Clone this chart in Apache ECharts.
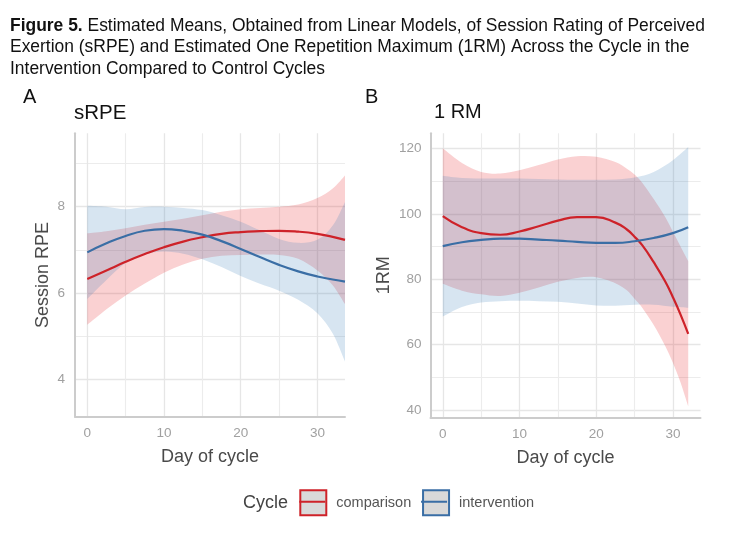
<!DOCTYPE html>
<html>
<head>
<meta charset="utf-8">
<script src="https://cdn.jsdelivr.net/npm/echarts@6/dist/echarts.min.js"></script>
<style>
  html, body { margin: 0; padding: 0; background: #ffffff; }
  #chart { width: 734px; height: 534px; }
</style>
</head>
<body>
<div id="chart"></div>
<script>
// ---------- Data ----------
// Panel A: sRPE
const daysA = [0, 2.5, 5, 7.5, 10, 12.5, 15, 17.5, 20, 22.5, 25, 27.5, 30, 32, 33.6];
const srpeComparison      = [6.32, 6.52, 6.72, 6.90, 7.06, 7.19, 7.29, 7.37, 7.41, 7.43, 7.44, 7.42, 7.37, 7.30, 7.23];
const srpeComparisonUpper = [7.38, 7.43, 7.50, 7.58, 7.65, 7.72, 7.80, 7.88, 7.94, 7.97, 8.00, 8.05, 8.20, 8.42, 8.72];
const srpeComparisonLower = [5.26, 5.62, 5.94, 6.22, 6.47, 6.66, 6.79, 6.86, 6.88, 6.89, 6.88, 6.79, 6.52, 6.18, 5.74];
const srpeIntervention      = [6.94, 7.15, 7.32, 7.44, 7.48, 7.44, 7.35, 7.20, 7.02, 6.83, 6.65, 6.50, 6.38, 6.31, 6.26];
const srpeInterventionUpper = [8.02, 8.00, 7.94, 7.99, 8.00, 7.97, 7.92, 7.80, 7.65, 7.45, 7.25, 7.16, 7.23, 7.56, 8.11];
const srpeInterventionLower = [5.86, 6.30, 6.70, 6.89, 6.96, 6.91, 6.78, 6.60, 6.39, 6.21, 6.05, 5.84, 5.53, 5.06, 4.41];

// Panel B: 1RM
const daysBComparison = [0, 2.5, 5, 7.5, 10, 12.5, 15, 17.5, 20, 22.5, 24, 25, 26, 27.5, 29, 30, 31, 32];
const rmComparison      = [99.3, 95.9, 94.1, 93.6, 94.6, 96.2, 97.9, 99.0, 99.0, 97.3, 95.2, 93.0, 90.4, 85.2, 79.3, 74.5, 69.2, 63.3];
const rmComparisonUpper = [120.0, 115.5, 112.8, 112.3, 113.3, 114.9, 116.6, 117.6, 117.4, 115.8, 113.8, 112.0, 109.5, 104.5, 99.0, 94.5, 90.0, 85.5];
const rmComparisonLower = [78.6, 76.5, 75.4, 74.9, 75.9, 77.5, 79.2, 80.4, 80.6, 78.8, 76.6, 74.0, 71.3, 66.0, 59.6, 54.5, 48.4, 41.1];
const daysBIntervention = [0, 2.5, 5, 7.5, 10, 12.5, 15, 17.5, 20, 22.5, 25, 27.5, 30, 32];
const rmIntervention      = [90.1, 91.3, 92.0, 92.4, 92.4, 92.1, 91.8, 91.4, 91.1, 91.1, 91.6, 92.6, 94.1, 95.9];
const rmInterventionUpper = [111.6, 110.9, 110.8, 110.8, 110.8, 110.6, 110.5, 110.4, 110.4, 110.5, 111.1, 112.8, 116.4, 120.4];
const rmInterventionLower = [68.6, 71.5, 72.9, 73.3, 73.4, 73.3, 73.1, 72.6, 72.0, 71.9, 72.2, 72.2, 71.6, 71.3];

// Tick labels
const xMajorTicks = [0, 10, 20, 30];
const xMinorTicks = [5, 15, 25];
const yMajorTicksA = [4, 6, 8];
const yMinorTicksA = [5, 7, 9];
const yMajorTicksB = [40, 60, 80, 100, 120];
const yMinorTicksB = [50, 70, 90, 110];

const groupNames = ['comparison', 'intervention'];

// ---------- Styling ----------
const RED = '#CE2229', BLUE = '#3A6EA5';
const RED_FILL = 'rgba(228,26,28,0.2)', BLUE_FILL = 'rgba(55,126,184,0.2)';
const FONT = '"Liberation Sans", Arial, Helvetica, sans-serif';

const chart = echarts.init(document.getElementById('chart'), null, { renderer: 'canvas' });

function pairs(xs, ys) { return xs.map((x, i) => [x, ys[i]]); }

// Catmull-Rom curve through pixel points -> cubic bezier path segments
function curveSegments(pts) {
  let d = '';
  for (let i = 0; i < pts.length - 1; i++) {
    const p0 = pts[i - 1] || pts[i], p1 = pts[i], p2 = pts[i + 1], p3 = pts[i + 2] || pts[i + 1];
    const c1 = [p1[0] + (p2[0] - p0[0]) / 6, p1[1] + (p2[1] - p0[1]) / 6];
    const c2 = [p2[0] - (p3[0] - p1[0]) / 6, p2[1] - (p3[1] - p1[1]) / 6];
    d += ' C' + c1[0] + ',' + c1[1] + ' ' + c2[0] + ',' + c2[1] + ' ' + p2[0] + ',' + p2[1];
  }
  return d;
}

function band(key, idx, xs, lower, upper, fill) {
  return {
    type: 'custom', name: key, xAxisIndex: idx, yAxisIndex: idx,
    coordinateSystem: 'cartesian2d', silent: true, z: 1, clip: true,
    data: xs.map((x, i) => [x, lower[i], upper[i]]),
    encode: { x: 0, y: [1, 2] },
    renderItem: function (params, api) {
      if (params.dataIndexInside !== 0) return null;
      const n = params.dataInsideLength;
      const up = [], lo = [];
      for (let i = 0; i < n; i++) {
        up.push(api.coord([api.value(0, i), api.value(2, i)]));
        lo.push(api.coord([api.value(0, i), api.value(1, i)]));
      }
      const loRev = lo.slice().reverse();
      const d = 'M' + up[0][0] + ',' + up[0][1] + curveSegments(up) +
        ' L' + loRev[0][0] + ',' + loRev[0][1] + curveSegments(loRev) + ' Z';
      return { type: 'path', shape: { pathData: d }, style: { fill: fill, stroke: null } };
    }
  };
}

function line(name, idx, xs, ys, color) {
  return {
    type: 'line', name: name, xAxisIndex: idx, yAxisIndex: idx,
    data: pairs(xs, ys), smooth: true, symbol: 'none', showSymbol: false,
    lineStyle: { color: color, width: 2.2 }, itemStyle: { color: color }, z: 3
  };
}

const axisLineStyle = { show: true, onZero: false, lineStyle: { color: '#cccccc', width: 2 } };
const majorGrid = { show: true, lineStyle: { color: '#e6e6e6', width: 1.3 } };
const minorGrid = { show: true, lineStyle: { color: '#ececec', width: 1.1 } };
const tickLabel = { color: '#a0a0a0', fontSize: 13.5, fontFamily: FONT, lineHeight: 16 };
const axisNameStyle = { fontSize: 18, color: '#4a4a4a', fontFamily: FONT, lineHeight: 22 };

function xMain(gridIndex) {
  return {
    type: 'value', gridIndex, min: -1.6, max: 33.6,
    axisLine: axisLineStyle,
    axisTick: { show: false, customValues: xMajorTicks },
    axisLabel: Object.assign({ customValues: xMajorTicks, margin: 8.5 }, tickLabel),
    splitLine: majorGrid,
    name: 'Day of cycle', nameLocation: 'middle', nameGap: 22.5, nameTextStyle: axisNameStyle
  };
}
function xMinor(gridIndex) {
  return {
    type: 'value', gridIndex, min: -1.6, max: 33.6,
    axisLine: { show: false, onZero: false }, axisLabel: { show: false },
    axisTick: { show: false, customValues: xMinorTicks },
    splitLine: minorGrid
  };
}
function yMain(gridIndex, min, max, ticks, name, gap, margin) {
  return {
    type: 'value', gridIndex, min, max, position: 'left',
    axisLine: axisLineStyle,
    axisTick: { show: false, customValues: ticks },
    axisLabel: Object.assign({ customValues: ticks, margin: margin }, tickLabel),
    splitLine: majorGrid,
    name: name, nameLocation: 'middle', nameGap: gap, nameTextStyle: axisNameStyle
  };
}
function yMinor(gridIndex, min, max, ticks) {
  return {
    type: 'value', gridIndex, min, max, position: 'left',
    axisLine: { show: false, onZero: false }, axisLabel: { show: false },
    axisTick: { show: false, customValues: ticks },
    splitLine: minorGrid
  };
}

const legendMarkLine = 'path://M0,0L26,0L26,0Z M0,11.5H26V13.5H0Z M0,25L26,25L26,25Z';

const option = {
  backgroundColor: '#ffffff',
  animation: false,
  textStyle: { fontFamily: FONT },
  title: [
    {
      text: '{b|Figure 5.} Estimated Means, Obtained from Linear Models, of Session Rating of Perceived\nExertion (sRPE) and Estimated One Repetition Maximum (1RM) Across the Cycle in the\nIntervention Compared to Control Cycles',
      left: 10, top: 15.3, padding: 0,
      textStyle: {
        fontSize: 17.45, lineHeight: 21.5, color: '#111111', fontWeight: 'normal', fontFamily: FONT,
        rich: { b: { fontSize: 17.45, lineHeight: 21.5, fontWeight: 'bold', color: '#111111', fontFamily: FONT } }
      }
    },
    { text: 'A', left: 23, top: 85, padding: 0, textStyle: { fontSize: 20, lineHeight: 24, fontWeight: 'normal', color: '#111', fontFamily: FONT } },
    { text: 'B', left: 365, top: 85, padding: 0, textStyle: { fontSize: 20, lineHeight: 24, fontWeight: 'normal', color: '#111', fontFamily: FONT } },
    { text: 'sRPE', left: 74, top: 101, padding: 0, textStyle: { fontSize: 20.5, lineHeight: 24, fontWeight: 'normal', color: '#111', fontFamily: FONT } },
    { text: '1 RM', left: 434, top: 100.5, padding: 0, textStyle: { fontSize: 20, lineHeight: 24, fontWeight: 'normal', color: '#111', fontFamily: FONT } },
    { text: 'Cycle', left: 243, top: 492, padding: 0, textStyle: { fontSize: 18, lineHeight: 22, fontWeight: 'normal', color: '#444', fontFamily: FONT } }
  ],
  legend: [
    {
      left: 299.3, top: 489.3, padding: 0, orient: 'horizontal',
      itemWidth: 26, itemHeight: 25, itemGap: 10.8, icon: 'rect', selectedMode: false,
      textStyle: { fontSize: 14.5, color: '#555555', fontFamily: FONT, padding: [0, 0, 0, 5] },
      data: [
        { name: groupNames[0], itemStyle: { color: '#d9d9d9', borderColor: RED, borderWidth: 2, opacity: 1 } },
        { name: groupNames[1], itemStyle: { color: '#d9d9d9', borderColor: BLUE, borderWidth: 2, opacity: 1 } }
      ]
    },
    {
      left: 299.3, top: 489.3, padding: 0, orient: 'horizontal',
      itemWidth: 26, itemHeight: 25, itemGap: 10.8, icon: legendMarkLine, selectedMode: false,
      textStyle: { fontSize: 14.5, color: 'rgba(0,0,0,0)', fontFamily: FONT, padding: [0, 0, 0, 5] },
      data: [
        { name: groupNames[0], itemStyle: { color: RED, borderWidth: 0, opacity: 1 } },
        { name: groupNames[1], itemStyle: { color: BLUE, borderWidth: 0, opacity: 1 } }
      ]
    }
  ],
  grid: [
    { left: 75, top: 133.3, width: 270, height: 283.4 },
    { left: 430.5, top: 133.3, width: 270, height: 284 }
  ],
  xAxis: [xMain(0), xMain(1), xMinor(0), xMinor(1)],
  yAxis: [
    yMain(0, 3.13, 9.7, yMajorTicksA, 'Session RPE', 16, 10),
    yMain(1, 37.8, 124.6, yMajorTicksB, '1RM', 25.5, 9),
    yMinor(0, 3.13, 9.7, yMinorTicksA),
    yMinor(1, 37.8, 124.6, yMinorTicksB)
  ],
  series: [
    band('A comparison band', 0, daysA, srpeComparisonLower, srpeComparisonUpper, RED_FILL),
    band('A intervention band', 0, daysA, srpeInterventionLower, srpeInterventionUpper, BLUE_FILL),
    band('B comparison band', 1, daysBComparison, rmComparisonLower, rmComparisonUpper, RED_FILL),
    band('B intervention band', 1, daysBIntervention, rmInterventionLower, rmInterventionUpper, BLUE_FILL),
    line(groupNames[0], 0, daysA, srpeComparison, RED),
    line(groupNames[1], 0, daysA, srpeIntervention, BLUE),
    line(groupNames[0], 1, daysBComparison, rmComparison, RED),
    line(groupNames[1], 1, daysBIntervention, rmIntervention, BLUE)
  ]
};

chart.setOption(option);
</script>
</body>
</html>
